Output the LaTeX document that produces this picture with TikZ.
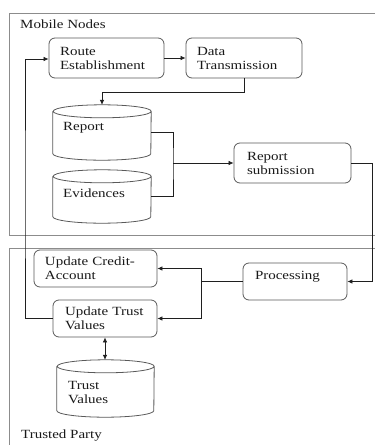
\documentclass[tikz,border=0pt]{standalone}
\usepackage{fontspec}
\setmainfont{Liberation Serif}[FakeStretch=1.2]
\usetikzlibrary{arrows.meta,calc}
\definecolor{boxc}{gray}{0.35}
\definecolor{framec}{gray}{0.55}
\definecolor{linec}{gray}{0.12}
\newcommand\mycyl[2]{%
  \draw[cylline] ([yshift=-6.5pt]#1.north west) -- ([yshift=6.5pt]#1.south west)
    arc[start angle=180,end angle=360,x radius=#2,y radius=6.5pt]
    -- ([yshift=-6.5pt]#1.north east)
    arc[start angle=0,end angle=360,x radius=#2,y radius=6.5pt];}
\begin{document}
\begin{tikzpicture}[x=1pt,y=-1pt,
  every node/.style={font=\fontsize{12.5}{14}\selectfont, inner sep=0pt, text=black!90},
  box/.style={draw=boxc, line width=0.8pt, rounded corners=6pt, align=left},
  cyl/.style={draw=none},
  cylline/.style={draw=boxc, line width=0.8pt},
  txt/.style={align=left, anchor=west},
  frame/.style={draw=framec, line width=1pt},
  conn/.style={draw=linec, line width=0.7pt},
  arr/.style={conn, -{Latex[length=5pt,width=4.5pt]}},
  darr/.style={conn, {Latex[length=5pt,width=4.5pt]}-{Latex[length=5pt,width=4.5pt]}}
]
\useasboundingbox (0,0) rectangle (375,445);

% frames
\draw[frame] (375,13) -- (9,13) -- (9,235) -- (375,235);
\draw[frame] (375,248) -- (9,248) -- (9,445);
\node[txt] (mobile) at (20,24) {Mobile Nodes};
\node[txt] (trusted) at (21,436) {Trusted Party};

% boxes
\node[box, minimum width=115pt, minimum height=40pt, inner xsep=11pt, text width=93pt] (route) at (106.5,58) {Route\\Establishment};
\node[box, minimum width=116pt, minimum height=40pt, inner xsep=11pt, text width=94pt] (data) at (244,58) {Data\\Transmission};
\node[box, minimum width=117pt, minimum height=40pt, inner xsep=13pt, text width=91pt] (repsub) at (292.5,163) {Report\\submission};
\node[box, minimum width=104pt, minimum height=37pt, inner xsep=12pt, text width=80pt] (proc) at (295,281.5) {\raisebox{5pt}[\height][\depth]{Processing}};
\node[box, minimum width=123pt, minimum height=37pt, inner xsep=11pt, text width=101pt] (uca) at (95.5,268.5) {Update~Credit-\\Account};
\node[box, minimum width=104pt, minimum height=37pt, inner xsep=12pt, text width=80pt] (utv) at (105,318.5) {Update~Trust\\Values};

% cylinders
\node[cyl, minimum width=98pt, minimum height=55pt] (report) at (102,132.5) {};
\node[cyl, minimum width=98pt, minimum height=53pt] (evid) at (102,196.5) {};
\node[cyl, minimum width=97pt, minimum height=57pt] (trust) at (105.5,388.5) {};
\mycyl{report}{49pt}
\mycyl{evid}{49pt}
\mycyl{trust}{48.5pt}
\node[txt] (reporttxt) at (63,128) {Report};
\node[txt] (evidtxt) at (63,193) {Evidences};
\node[txt] (trusttxt) at (68,392) {Trust\\Values};

% junction coordinates
\coordinate (j1) at (173,163);
\coordinate (rc) at (372,163);
\coordinate (j2) at (201,281.5);
\coordinate (fb) at (25,200);

% connectors
\draw[arr] (route.east) -- (data.west);
\draw[arr] (data.south) -- ++(0,14) -| (report.north);
\draw[conn] (report.east) -| (j1) |- (evid.east);
\draw[arr] (j1) -- (repsub.west);
\draw[arr] (repsub.east) -- (rc) |- (proc.east);
\draw[conn] (proc.west) -- (j2);
\draw[arr] (j2) |- (uca.east);
\draw[arr] (j2) |- (utv.east);
\draw[arr] (utv.west) -| (fb) |- ([yshift=-1pt]route.west);
\draw[darr] (utv.south) -- (utv.south |- trust.north);
\end{tikzpicture}
\end{document}
